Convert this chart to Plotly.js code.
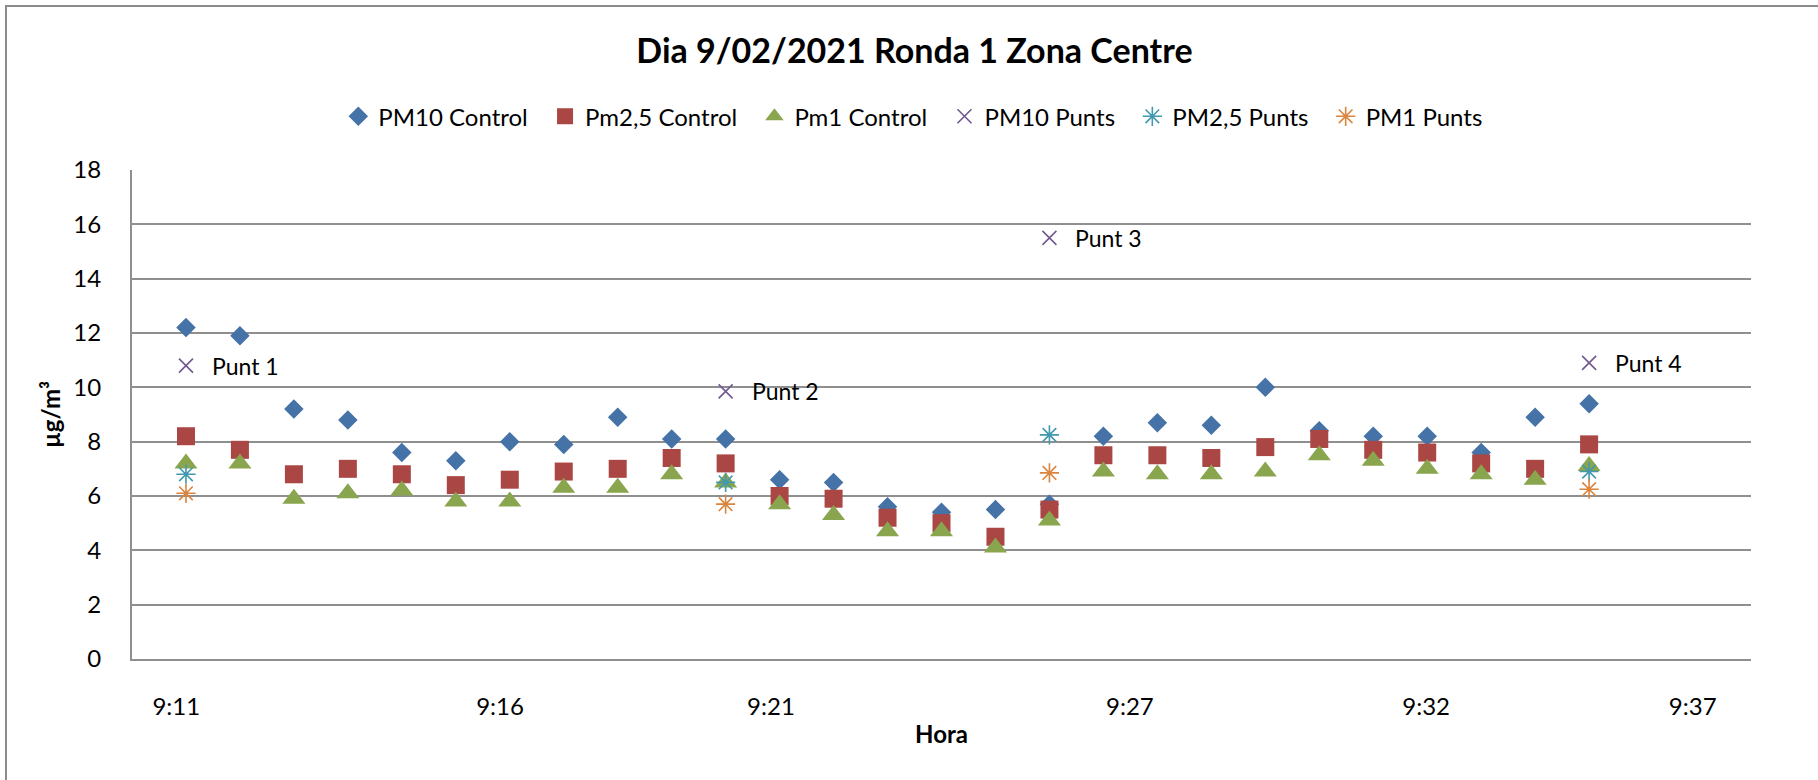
<!DOCTYPE html>
<html>
<head>
<meta charset="utf-8">
<script src="https://cdn.plot.ly/plotly-3.0.1.min.js"></script>
<style>
  html, body { margin: 0; padding: 0; background: #fff; overflow: hidden; }
  #wrap { position: relative; width: 1818px; height: 780px; }
  #chart { width: 1818px; height: 780px; }
  #frame { position: absolute; left: 5px; top: 5px; width: 1900px; height: 900px;
           border: 2px solid #8c8c8c; pointer-events: none; box-sizing: border-box; }
</style>
</head>
<body>
<div id="wrap">
  <div id="chart"></div>
  <div id="frame"></div>
</div>
<script>
// Times of the control readings (h:mm)
const times = ["9:11","9:12","9:13","9:14","9:15","9:16","9:17","9:18","9:19","9:20",
               "9:21","9:22","9:23","9:24","9:25","9:26","9:27","9:28","9:29","9:30",
               "9:31","9:32","9:33","9:34","9:35","9:36","9:37"];
const pm10Control = [12.2, 11.9, 9.2, 8.8, 7.6, 7.3, 8.0, 7.9, 8.9, 8.1,
                     8.1, 6.6, 6.5, 5.6, 5.4, 5.5, 5.7, 8.2, 8.7, 8.6,
                     10.0, 8.4, 8.2, 8.2, 7.6, 8.9, 9.4];
const pm25Control = [8.2, 7.7, 6.8, 7.0, 6.8, 6.4, 6.6, 6.9, 7.0, 7.4,
                     7.2, 6.0, 5.9, 5.2, 5.0, 4.5, 5.5, 7.5, 7.5, 7.4,
                     7.8, 8.1, 7.7, 7.6, 7.2, 7.0, 7.9];
const pm1Control  = [7.2, 7.2, 5.9, 6.1, 6.2, 5.8, 5.8, 6.3, 6.3, 6.8,
                     6.5, 5.7, 5.3, 4.7, 4.7, 4.1, 5.1, 6.9, 6.8, 6.8,
                     6.9, 7.5, 7.3, 7.0, 6.8, 6.6, 7.1];

// Measurement points
const puntTimes  = ["9:11", "9:21", "9:27", "9:37"];
const puntLabels = ["Punt 1", "Punt 2", "Punt 3", "Punt 4"];
const pm10Punts  = [10.8, 9.85, 15.5, 10.9];
const pm25Punts  = [6.8, 6.5, 8.25, 6.9];
const pm1Punts   = [6.1, 5.7, 6.85, 6.25];

// Series names and axis tick labels
const seriesNames = ["PM10 Control", "Pm2,5 Control", "Pm1 Control", "PM10 Punts", "PM2,5 Punts", "PM1 Punts"];
const xTickText = ["9:11", "9:16", "9:21", "9:27", "9:32", "9:37"];
const xTickVals = [10.82, 16.82, 21.84, 28.49, 33.98, 38.92];

const toMin = s => { const p = s.split(":"); return (+p[0] - 9) * 60 + (+p[1]); };
const tx = times.map(toMin);
const px = puntTimes.map(toMin);
const pad = "\u00a0\u00a0";

const FONT = "Lato, 'Open Sans', sans-serif";

const traces = [
  { x: tx, y: pm10Control, name: seriesNames[0] + pad, type: "scatter", mode: "markers",
    marker: { symbol: "diamond", size: 15, color: "#4572A7" } },
  { x: tx, y: pm25Control, name: seriesNames[1] + pad, type: "scatter", mode: "markers",
    marker: { symbol: "square", size: 18, color: "#AA4643" } },
  { x: tx, y: pm1Control, name: seriesNames[2] + pad, type: "scatter", mode: "markers",
    marker: { symbol: "triangle-up", size: 20, color: "#89A54E" } },
  { x: px, y: pm10Punts, name: seriesNames[3] + pad, type: "scatter", mode: "markers",
    marker: { symbol: "x-thin-open", size: 14, color: "#71588F", line: { width: 1.6, color: "#71588F" } } },
  { x: px, y: pm25Punts, name: seriesNames[4] + pad, type: "scatter", mode: "markers",
    marker: { symbol: "asterisk-open", size: 16, color: "#4198AF", line: { width: 1.6, color: "#4198AF" } } },
  { x: px, y: pm1Punts, name: seriesNames[5], type: "scatter", mode: "markers",
    marker: { symbol: "asterisk-open", size: 16, color: "#DB843D", line: { width: 1.6, color: "#DB843D" } } }
];

const annotations = px.map((x, i) => ({
  x: x, y: pm10Punts[i], xref: "x", yref: "y", text: puntLabels[i],
  showarrow: false, xanchor: "left", yanchor: "middle", xshift: 24,
  font: { family: FONT, size: 23, color: "#000" }
}));

const layout = {
  width: 1818, height: 780,
  paper_bgcolor: "#fff", plot_bgcolor: "#fff",
  margin: { l: 132, r: 67, t: 170, b: 121 },
  font: { family: FONT, size: 24, color: "#000" },
  title: { text: "<b>Dia 9/02/2021 Ronda 1 Zona Centre</b>", font: { family: FONT, size: 34, color: "#000" },
           x: 0.503, xanchor: "center", y: 1 - 51/780, yanchor: "middle", yref: "container" },
  showlegend: true,
  legend: { orientation: "h", x: 0.4826, xanchor: "center", y: 1.109, yanchor: "middle",
            font: { family: FONT, size: 24, color: "#000" }, itemwidth: 30, traceorder: "normal" },
  xaxis: {
    range: [10, 40], showgrid: false, zeroline: false,
    showline: true, linecolor: "#8f8f8f", linewidth: 2,
    tickmode: "array", tickvals: xTickVals, ticktext: xTickText, ticks: "",
    ticklabelstandoff: 25,
    tickfont: { family: FONT, size: 24, color: "#000" },
    title: { text: "<b>Hora</b>", font: { family: FONT, size: 24, color: "#000" }, standoff: 7 }
  },
  yaxis: {
    range: [0, 18], dtick: 2, tick0: 0, showgrid: true, gridcolor: "#8f8f8f", gridwidth: 2,
    zeroline: false, showline: true, linecolor: "#8f8f8f", linewidth: 2, ticks: "",
    ticklabelstandoff: 24,
    tickfont: { family: FONT, size: 24, color: "#000" },
    title: { text: "<b>µg/m³</b>", font: { family: FONT, size: 24, color: "#000" }, standoff: 6 }
  },
  annotations: annotations
};

Plotly.newPlot("chart", traces, layout, { staticPlot: true, displayModeBar: false });
</script>
</body>
</html>
